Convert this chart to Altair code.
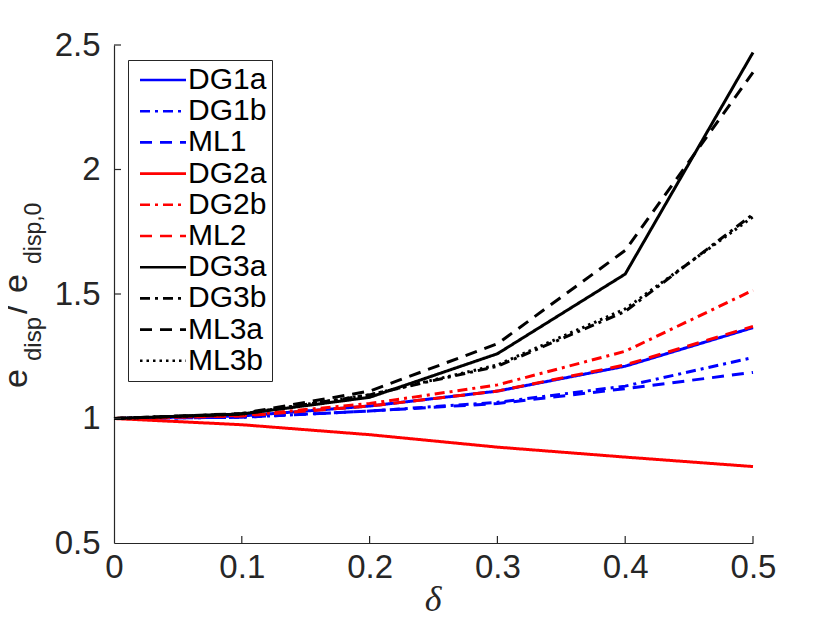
import altair as alt
import pandas as pd

# ---- data ----
delta = [0.0, 0.1, 0.2, 0.3, 0.4, 0.5]
DG1a = [1.0, 1.010, 1.050, 1.110, 1.210, 1.365]
DG1b = [1.0, 1.005, 1.030, 1.065, 1.130, 1.245]
ML1 = [1.0, 1.005, 1.030, 1.060, 1.120, 1.185]
DG2a = [1.0, 0.975, 0.935, 0.885, 0.845, 0.807]
DG2b = [1.0, 1.012, 1.060, 1.135, 1.270, 1.515]
ML2 = [1.0, 1.010, 1.050, 1.110, 1.215, 1.370]
DG3a = [1.0, 1.018, 1.085, 1.260, 1.580, 2.470]
DG3b = [1.0, 1.018, 1.095, 1.210, 1.430, 1.820]
ML3a = [1.0, 1.020, 1.110, 1.300, 1.675, 2.390]
ML3b = [1.0, 1.018, 1.095, 1.215, 1.440, 1.810]

names = ["DG1a", "DG1b", "ML1", "DG2a", "DG2b", "ML2", "DG3a", "DG3b", "ML3a", "ML3b"]
series = [DG1a, DG1b, ML1, DG2a, DG2b, ML2, DG3a, DG3b, ML3a, ML3b]
colors = ["#0000ff", "#0000ff", "#0000ff", "#ff0000", "#ff0000", "#ff0000",
          "#000000", "#000000", "#000000", "#000000"]
SOLID, DASHDOT, DASHED, DOTTED = [1, 0], [10, 5, 3, 5], [12, 8], [2.5, 4]
dashes = [SOLID, DASHDOT, DASHED, SOLID, DASHDOT, DASHED, SOLID, DASHDOT, DASHED, DOTTED]

x_ticks = [0.0, 0.1, 0.2, 0.3, 0.4, 0.5]
y_ticks = [0.5, 1.0, 1.5, 2.0, 2.5]
x_title = "δ"
y_title_parts = ["e", "disp", "/", "e", "disp,0"]

rows = []
for n, vals in zip(names, series):
    for xv, yv in zip(delta, vals):
        rows.append({"x": xv, "y": yv, "series": n})
df = pd.DataFrame(rows)

W, H = 639, 498
AX = "#262626"
FONT = "Liberation Sans"

xs = alt.Scale(domain=[0, 0.5], nice=False, zero=False)
ys = alt.Scale(domain=[0.5, 2.5], nice=False, zero=False)

legend = alt.Legend(
    title=None, orient="none", legendX=14, legendY=15,
    symbolType="M-2,0L2,0", symbolSize=529, symbolStrokeWidth=2.6,
    symbolOffset=15, labelOffset=10, padding=5, rowPadding=1.2,
    labelFont=FONT, labelFontSize=30, labelColor="#000000",
    strokeColor=AX, fillColor="#ffffff", labelLimit=300,
)

lines = alt.Chart(df).mark_line(strokeWidth=3).encode(
    x=alt.X("x:Q", scale=xs, axis=alt.Axis(
        values=x_ticks, format="~g", title=None, ticks=False, grid=False,
        labelFont=FONT, labelFontSize=33, labelColor=AX, labelPadding=8,
        domainColor=AX, domainWidth=1.2, labelFlush=False)),
    y=alt.Y("y:Q", scale=ys, axis=alt.Axis(
        values=y_ticks, format="~g", title=None, ticks=False, grid=False,
        labelFont=FONT, labelFontSize=33, labelColor=AX, labelPadding=14,
        domainColor=AX, domainWidth=1.2, labelFlush=False)),
    color=alt.Color("series:N", scale=alt.Scale(domain=names, range=colors), legend=legend),
    strokeDash=alt.StrokeDash("series:N", scale=alt.Scale(domain=names, range=dashes), legend=legend),
    detail="series:N",
)

# inward tick marks (MATLAB style)
xt_df = pd.DataFrame({"x": x_ticks[1:], "y": 0.5, "y2": 0.5 + 7 / 249})
yt_df = pd.DataFrame({"y": y_ticks[1:], "x": 0.0, "x2": 7 / 1278})
xticks = alt.Chart(xt_df).mark_rule(color=AX, strokeWidth=1.2).encode(
    x=alt.X("x:Q", scale=xs), y=alt.Y("y:Q", scale=ys), y2="y2:Q")
yticks = alt.Chart(yt_df).mark_rule(color=AX, strokeWidth=1.2).encode(
    y=alt.Y("y:Q", scale=ys), x=alt.X("x:Q", scale=xs), x2="x2:Q")

one = pd.DataFrame({"k": [0]})


def txt(s, x, y, size, angle=0, font=FONT, style="normal", align="left"):
    return alt.Chart(one).mark_text(
        font=font, fontSize=size, fontStyle=style, angle=angle, align=align,
        baseline="alphabetic", color=AX).encode(
        x=alt.value(x), y=alt.value(y), text=alt.value(s))


xlab = txt(x_title, 319, 566, 36, font="Liberation Serif", style="italic", align="center")
ylab = [
    txt(y_title_parts[0], -87, 343, 34, angle=270),
    txt(y_title_parts[1], -73, 316, 24, angle=270),
    txt(y_title_parts[2], -87, 269, 34, angle=270),
    txt(y_title_parts[3], -87, 248, 34, angle=270),
    txt(y_title_parts[4], -73, 219, 23, angle=270),
]

chart = alt.layer(lines, xticks, yticks, xlab, *ylab).properties(
    width=W, height=H,
    padding={"left": 106, "top": 37, "right": 50, "bottom": 71},
    autosize=alt.AutoSizeParams(type="none"),
).configure_view(stroke=None)

chart.save("out.html", embed_options={"renderer": "svg", "actions": False})
